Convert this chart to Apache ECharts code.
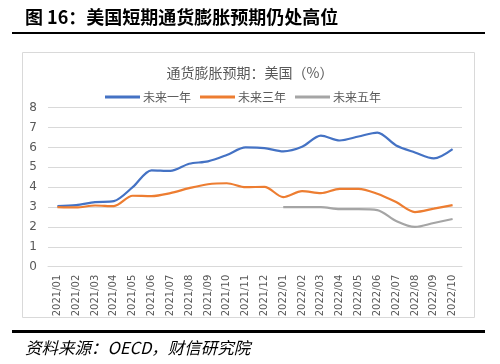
<!DOCTYPE html>
<html><head><meta charset="utf-8">
<script src="https://cdn.jsdelivr.net/npm/echarts@6/dist/echarts.min.js"></script>
<style>html,body{margin:0;padding:0;background:#fff}#c{width:500px;height:364px}</style>
</head><body><div id="c"></div>
<script>
const categories = ['2021/01','2021/02','2021/03','2021/04','2021/05','2021/06','2021/07','2021/08','2021/09','2021/10','2021/11','2021/12','2022/01','2022/02','2022/03','2022/04','2022/05','2022/06','2022/07','2022/08','2022/09','2022/10'];
const oneYear = [3.05,3.1,3.25,3.3,4.0,4.85,4.82,5.18,5.3,5.62,6.0,5.97,5.8,6.03,6.6,6.35,6.55,6.75,6.1,5.75,5.45,5.92];
const threeYear = [3.0,2.98,3.08,3.05,3.57,3.55,3.7,3.95,4.15,4.2,4.0,4.02,3.5,3.8,3.7,3.92,3.92,3.67,3.25,2.75,2.92,3.1];
const fiveYear = [null,null,null,null,null,null,null,null,null,null,null,null,3.0,3.0,3.0,2.9,2.9,2.85,2.3,2.0,2.2,2.4];
const yTicks = [0,1,2,3,4,5,6,7,8];
const seriesNames = ['未来一年','未来三年','未来五年'];

const chart = echarts.init(document.getElementById('c'), null, {renderer:'canvas'});
const grey = '#595959';
chart.setOption({
  animation:false,
  color:['#4472C4','#ED7D31','#A5A5A5'],
  title:{text:'通货膨胀预期：美国（%）',left:245,textAlign:'center',top:61,
    textStyle:{fontSize:14,fontWeight:'normal',color:grey,fontFamily:'Noto Sans CJK SC'}},
  legend:{top:91,left:105,padding:0,itemWidth:35,itemHeight:3,itemGap:9,icon:'rect',
    textStyle:{fontSize:12,color:grey,fontFamily:'Noto Sans CJK SC',padding:[0,0,0,-2]},
    data:seriesNames},
  grid:{left:48,right:38,top:107.7,bottom:97.3},
  xAxis:{type:'category',data:categories,boundaryGap:true,
    axisLine:{show:true,lineStyle:{color:'#d9d9d9'}},axisTick:{show:false},
    axisLabel:{rotate:90,fontSize:10,color:grey,margin:8,fontFamily:'DejaVu Sans',interval:0}},
  yAxis:{type:'value',min:yTicks[0],max:yTicks[yTicks.length-1],interval:1,
    axisLine:{show:false},axisTick:{show:false},
    axisLabel:{fontSize:12,color:grey,margin:11,fontFamily:'DejaVu Sans'},
    splitLine:{lineStyle:{color:'#d9d9d9',width:1}}},
  series:[
    {name:seriesNames[0],type:'line',data:oneYear,smooth:0.3,symbol:'none',lineStyle:{width:2.2}},
    {name:seriesNames[1],type:'line',data:threeYear,smooth:0.3,symbol:'none',lineStyle:{width:2.2}},
    {name:seriesNames[2],type:'line',data:fiveYear,smooth:0.3,symbol:'none',lineStyle:{width:2.2}}
  ],
  graphic:[
    {type:'text',left:25,top:8,style:{text:'图 16：美国短期通货膨胀预期仍处高位',fontSize:18,fontWeight:'bold',fill:'#000',fontFamily:'Noto Sans CJK SC'}},
    {type:'rect',shape:{x:12,y:32,width:473,height:2},style:{fill:'#000'}},
    {type:'rect',shape:{x:22.5,y:52.5,width:452,height:265},style:{fill:'none',stroke:'#d9d9d9',lineWidth:1},z:-1},
    {type:'rect',shape:{x:12,y:330,width:473,height:3},style:{fill:'#000'}},
    {type:'text',left:25,top:339,style:{text:'资料来源：OECD，财信研究院',fontSize:16.5,fontStyle:'italic',fill:'#000',fontFamily:'Noto Sans CJK SC'}}
  ]
});
</script></body></html>
